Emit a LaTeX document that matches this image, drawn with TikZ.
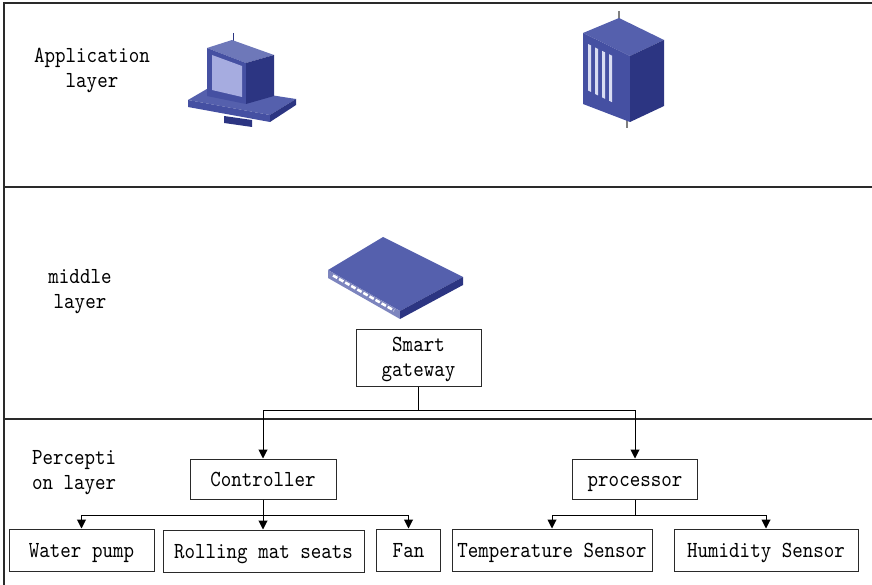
\documentclass[tikz,border=0pt]{standalone}
\usepackage{fontspec}
\usetikzlibrary{arrows.meta}
\newfontfamily\lbl{lmmono10-regular.otf}[FakeStretch=0.87]
\definecolor{devtop}{HTML}{5560AD}
\definecolor{devfront}{HTML}{4550A2}
\definecolor{devside}{HTML}{2C3582}
\definecolor{devscreen}{HTML}{A6ACE0}
\definecolor{devlight}{HTML}{D8DCF2}
\definecolor{frameline}{HTML}{2A2A2A}
\begin{document}
\begin{tikzpicture}[x=1pt,y=-1pt,
  every node/.style={font=\lbl\fontsize{23}{25}\selectfont, inner sep=0pt},
  box/.style={draw=frameline, line width=1pt, align=center, fill=white},
  onerow/.style={box, text height=17pt, text depth=3pt},
  layertext/.style={align=center},
  link/.style={line width=1pt, draw=black},
  arrowlink/.style={link, -{Triangle[length=9pt,width=9pt]}},
  sep/.style={line width=1.2pt, draw=frameline}]
\useasboundingbox (0,0) rectangle (872,585);

% frame and layer separators
\draw[sep] (872,3) -- (4,3) -- (4,585);
\draw[sep] (4,187) -- (872,187);
\draw[sep] (4,419) -- (872,419);

% layer captions
\node[layertext] (app) at (92,70) {Application\\layer};
\node[layertext] (mid) at (80,292) {middle\\layer};
\node[align=left, anchor=west] (perc) at (32,473) {Percepti\\on layer};

% --- workstation ---
\fill[devside] (224,116) -- (252,120) -- (252,127) -- (224,123) -- cycle;
\fill[devtop] (188,100) -- (212,86) -- (296,99) -- (270,115) -- cycle;
\fill[devfront] (188,100) -- (270,115) -- (270,122) -- (188,107) -- cycle;
\fill[devside] (270,115) -- (296,99) -- (296,105) -- (270,122) -- cycle;
\draw[devside, line width=1pt] (233,33) -- (233,42);
\fill[devtop!85!white] (207,48) -- (232,40) -- (274,55) -- (246,63) -- cycle;
\fill[devfront] (207,48) -- (246,63) -- (246,104) -- (207,96) -- cycle;
\fill[devscreen] (212,55) -- (242,66) -- (242,97) -- (212,90) -- cycle;
\fill[devside] (246,63) -- (274,55) -- (274,96) -- (246,104) -- cycle;

% --- server cabinet ---
\draw[gray, line width=1.2pt] (619,11) -- (619,19);
\draw[gray, line width=1.2pt] (627,120) -- (627,128);
\fill[devtop] (583,33) -- (619,18) -- (664,40) -- (630,56) -- cycle;
\fill[devfront] (583,33) -- (630,56) -- (630,122) -- (583,104) -- cycle;
\foreach \i in {0,1,2,3}{
  \fill[devlight] ({588+7*\i},{44+3.4*\i}) -- ({591+7*\i},{45.5+3.4*\i})
        -- ({591+7*\i},{92+3.4*\i}) -- ({588+7*\i},{90.5+3.4*\i}) -- cycle;
}
\fill[devside] (630,56) -- (664,40) -- (664,106) -- (630,122) -- cycle;

% --- network switch ---
\fill[devtop] (328,270) -- (383,237) -- (463,277) -- (400,311) -- cycle;
\fill[devfront!70!white] (328,270) -- (400,311) -- (400,319) -- (328,278) -- cycle;
\draw[white, line width=2.5pt, dash pattern=on 5pt off 2pt] (333,275.5) -- (394,310.5);
\fill[devside] (400,311) -- (463,277) -- (463,285) -- (400,319) -- cycle;

% gateway and processing nodes
\node[box, minimum width=125pt, minimum height=57pt] (gw) at (418.5,357.5) {};
\node[layertext] (gwtext) at ([yshift=-2pt]gw.center) {Smart\\gateway};
\node[onerow, minimum width=146pt, minimum height=40pt] (ctrl) at (263,479) {Controller};
\node[onerow, minimum width=125pt, minimum height=40pt] (proc) at (635,479) {processor};

% field devices
\node[onerow, minimum width=145pt, minimum height=42pt] (pump) at (81.5,550) {Water pump};
\node[onerow, minimum width=201pt, minimum height=42pt] (mat) at (263.5,551) {Rolling mat seats};
\node[onerow, minimum width=64pt, minimum height=42pt] (fan) at (408.5,550) {Fan};
\node[onerow, minimum width=200pt, minimum height=42pt] (temp) at (552,550) {Temperature Sensor};
\node[onerow, minimum width=184pt, minimum height=42pt] (hum) at (766,550) {Humidity Sensor};

% connectors
\coordinate (bus) at (418.5,410);
\coordinate (cbus) at (263,515);
\coordinate (pbus) at (635,515);
\draw[link] (gw.south) -- (bus);
\draw[arrowlink] (bus) -| (ctrl.north);
\draw[arrowlink] (bus) -| (proc.north);
\draw[link] (ctrl.south) -- (cbus);
\draw[arrowlink] (cbus) -| (pump.north);
\draw[arrowlink] (cbus) -- (cbus |- mat.north);
\draw[arrowlink] (cbus) -| (fan.north);
\draw[link] (proc.south) -- (pbus);
\draw[arrowlink] (pbus) -| (temp.north);
\draw[arrowlink] (pbus) -| (hum.north);
\end{tikzpicture}
\end{document}
